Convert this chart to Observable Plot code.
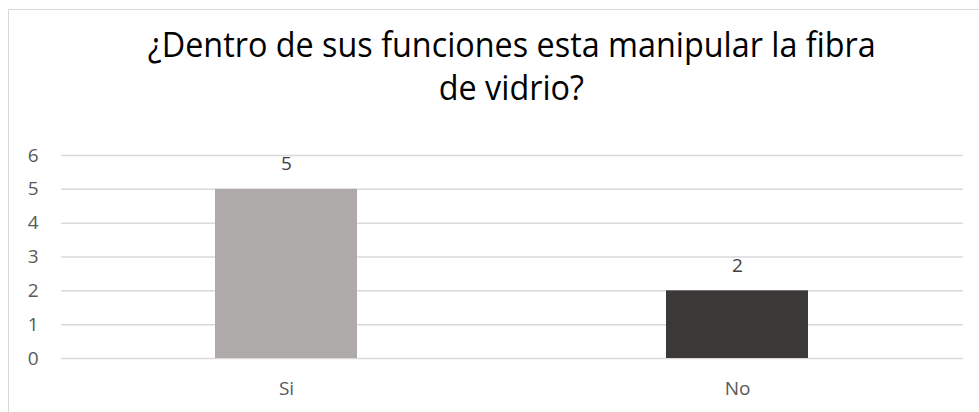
<!DOCTYPE html>
<html>
<head>
<meta charset="utf-8">
<script src="https://cdn.jsdelivr.net/npm/d3@7"></script>
<script src="https://cdn.jsdelivr.net/npm/@observablehq/plot@0.6"></script>
<style>
  html, body { margin: 0; padding: 0; background: #fff; }
  #wrap { position: relative; width: 979px; height: 412px; overflow: hidden; font-family: "Open Sans", sans-serif; }
  #frame { position: absolute; left: 8px; top: 9px; width: 1000px; height: 500px; border: 1.5px solid #d9d9d9; box-sizing: border-box; }
  #title { position: absolute; left: 22px; top: 0; width: 979px; text-align: center; color: #000; font-size: 34px; line-height: 43px; }
  #title .l1 { position: absolute; top: 23px; left: 0; width: 979px; white-space: nowrap; }
  #title .l2 { position: absolute; top: 66px; left: 0; width: 979px; white-space: nowrap; }
  #title span { display: inline-block; transform-origin: center; }
  #chart { position: absolute; left: 0; top: 0; }
</style>
</head>
<body>
<div id="wrap">
  <div id="frame"></div>
  <div id="title"><div class="l1"><span id="t1"></span></div><div class="l2"><span id="t2"></span></div></div>
  <div id="chart"></div>
</div>
<script>
const titleLines = ["¿Dentro de sus funciones esta manipular la fibra", "de vidrio?"];
const categories = ["Si", "No"];
const values = [5, 2];
const yTicks = [0, 1, 2, 3, 4, 5, 6];

const barColors = ["#aeaaaa", "#3b3838"];

const data = categories.map((c, i) => ({category: c, value: values[i]}));

const t1 = document.getElementById("t1");
const t2 = document.getElementById("t2");
t1.textContent = titleLines[0];
t2.textContent = titleLines[1];
const w1 = t1.getBoundingClientRect().width;
const sx = 728 / w1;
t1.style.transform = `scaleX(${sx})`;
t2.style.transform = `scaleX(${sx})`;

const chart = Plot.plot({
  width: 979,
  height: 412,
  marginTop: 155,
  marginBottom: 54,
  marginLeft: 61,
  marginRight: 16,
  style: {fontFamily: "Open Sans, sans-serif", fontSize: "19px", color: "#595959", background: "transparent"},
  x: {domain: categories, paddingInner: 0.685, paddingOuter: 0.3425, label: null},
  y: {domain: [0, 6], label: null},
  color: {domain: categories, range: barColors},
  marks: [
    Plot.ruleY(yTicks, {stroke: "#d9d9d9", strokeWidth: 1.5}),
    Plot.barY(data, {x: "category", y: "value", fill: "category"}),
    Plot.text(data, {x: "category", y: "value", text: d => String(d.value), dy: -25, fill: "#404040", fontSize: 19}),
    Plot.axisY({ticks: yTicks, tickFormat: d3.format("d"), tickSize: 0, tickPadding: 23, fill: "#595959", label: null}),
    Plot.axisX({tickSize: 0, tickPadding: 23, fill: "#595959", label: null})
  ]
});
document.getElementById("chart").appendChild(chart);
</script>
</body>
</html>
